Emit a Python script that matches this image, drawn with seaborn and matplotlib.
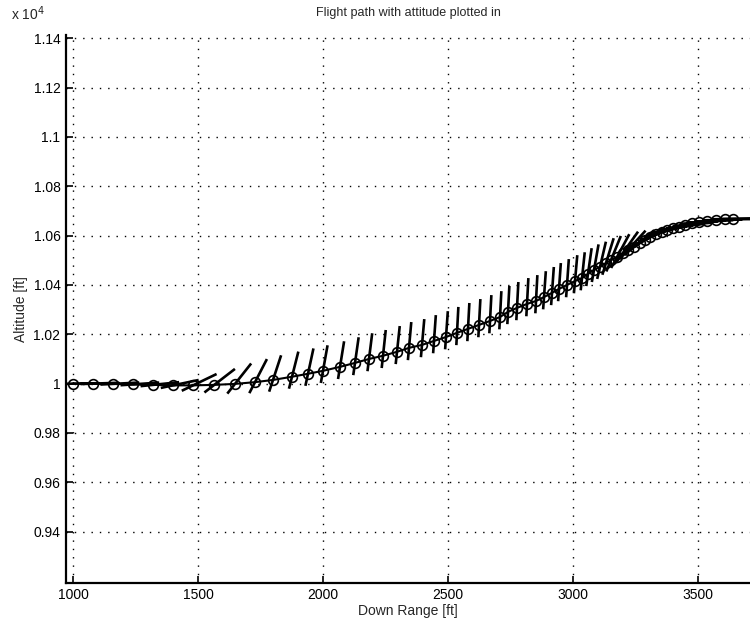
import numpy as np
import matplotlib
matplotlib.use("Agg")
import matplotlib.pyplot as plt
from matplotlib.ticker import FuncFormatter
import seaborn as sns

# flight path samples (down range ft, altitude ft)
down_range = [1000, 1080, 1160, 1240, 1320, 1400, 1480, 1565, 1648, 1728,
              1800, 1876, 1940, 2000, 2068, 2128, 2184, 2240, 2296, 2344,
              2396, 2444, 2492, 2536, 2580, 2624, 2668, 2708, 2740, 2776,
              2816, 2852, 2884, 2916, 2944, 2976, 3008, 3036, 3060, 3084,
              3108, 3132, 3152, 3176, 3200, 3220, 3244, 3268, 3288, 3308,
              3332, 3356, 3376, 3400, 3424, 3448, 3476, 3504, 3536, 3572,
              3608, 3640]
altitude = [10000, 10000, 9999, 9997, 9995, 9993, 9993, 9995, 9999, 10006,
            10015, 10028, 10040, 10052, 10068, 10084, 10100, 10113, 10129, 10145,
            10157, 10173, 10189, 10206, 10222, 10238, 10254, 10270, 10291, 10307,
            10323, 10335, 10351, 10368, 10384, 10400, 10416, 10428, 10445, 10461,
            10473, 10489, 10501, 10513, 10530, 10542, 10554, 10570, 10582, 10594,
            10607, 10615, 10623, 10631, 10635, 10643, 10651, 10655, 10659, 10663,
            10667, 10667]
# pitch attitude at each sample, degrees
attitude = [1, 2, 3, 4, 6, 12, 26, 38, 52, 63,
            72, 76, 78, 80, 81, 82, 83, 84, 84, 85,
            85, 86, 86, 87, 87, 87, 87, 87, 87, 87,
            87, 87, 86, 86, 86, 86, 85, 84, 82, 80,
            77, 73, 68, 62, 55, 48, 40, 33, 27, 22,
            18, 14, 11, 9, 7, 5, 4, 3, 2, 1,
            1, 0]
path_end = (3720, 10667)

x_ticks = [1000, 1500, 2000, 2500, 3000, 3500]
y_ticks = [9400, 9600, 9800, 10000, 10200, 10400, 10600, 10800, 11000, 11200, 11400]

sns.set_style("white")
plt.rcParams['font.family'] = ['Liberation Sans', 'DejaVu Sans']

fig = plt.figure(figsize=(7.5, 6.18), dpi=100)
ax = fig.add_axes([0.088, 0.057, 0.912, 0.886])

line_x = down_range + [path_end[0]]
line_y = altitude + [path_end[1]]
sns.lineplot(x=line_x, y=line_y, ax=ax, color='black', lw=1.5, sort=False,
             marker='o', markersize=7, markerfacecolor='none',
             markeredgecolor='black', markeredgewidth=1.2,
             markevery=list(range(len(down_range))))

# attitude bars: longer toward the nose, shorter behind
fore, aft = 105, 50
seg_x, seg_y = [], []
for x, y, a in zip(down_range, altitude, attitude):
    c, s = np.cos(np.radians(a)), np.sin(np.radians(a))
    seg_x += [x - aft * c, x + fore * c, np.nan]
    seg_y += [y - aft * s, y + fore * s, np.nan]
ax.plot(seg_x, seg_y, color='black', lw=1.9, solid_capstyle='butt', zorder=3)

ax.set_xlim(972, 3708)
ax.set_ylim(9193, 11412)
ax.set_xticks(x_ticks)
ax.set_yticks(y_ticks)
ax.yaxis.set_major_formatter(FuncFormatter(lambda v, p: '%g' % round(v / 1e4, 2)))
ax.grid(True, color='black', linestyle=(0, (1, 5)), lw=1.0)
ax.tick_params(direction='in', length=5, width=1.2, labelsize=10, colors='black',
               left=True, bottom=True, pad=4)
for side in ['top', 'right']:
    ax.spines[side].set_visible(False)
for side in ['left', 'bottom']:
    ax.spines[side].set_color('black')
    ax.spines[side].set_linewidth(1.6)

ax.set_xlabel('Down Range [ft]', fontsize=10, labelpad=1)
ax.set_ylabel('Altitude [ft]', fontsize=10, labelpad=4)
ax.set_title('Flight path with attitude plotted in', fontsize=9, pad=14)
fig.text(0.015, 0.962, 'x 10$^4$', fontsize=10, ha='left', va='bottom')

fig.savefig('out.png', dpi=100)
